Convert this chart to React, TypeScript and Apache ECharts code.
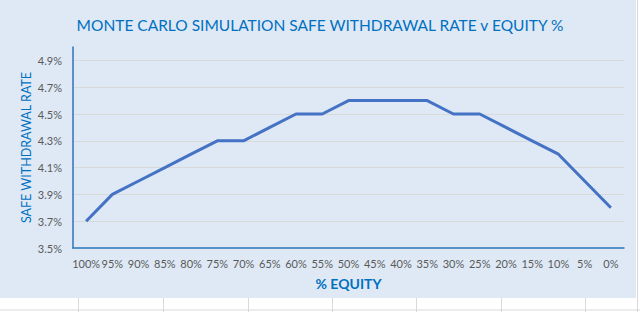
import React, { useEffect, useRef } from "react";
import * as echarts from "echarts";

const categories = ["100%", "95%", "90%", "85%", "80%", "75%", "70%", "65%", "60%", "55%", "50%", "45%", "40%", "35%", "30%", "25%", "20%", "15%", "10%", "5%", "0%"];
const swr = [3.7, 3.9, 4.0, 4.1, 4.2, 4.3, 4.3, 4.4, 4.5, 4.5, 4.6, 4.6, 4.6, 4.6, 4.5, 4.5, 4.4, 4.3, 4.2, 4.0, 3.8];
const cellLinesX = [78, 163, 248, 332, 416, 501, 585];

export default function App() {
  const ref = useRef<HTMLDivElement>(null);
  useEffect(() => {
    document.body.style.margin = "0";
    const chart = echarts.init(ref.current!, null, { renderer: "svg" });
    const font = "Lato, 'Open Sans', sans-serif";
    const graphics: any[] = [
      { type: "rect", z: -10, shape: { x: 0, y: 0, width: 636, height: 298 }, style: { fill: "#dee9f5" }, silent: true },
      { type: "line", shape: { x1: 0, y1: 310, x2: 640, y2: 310 }, style: { stroke: "#d9d9d9", lineWidth: 1 } },
      { type: "line", shape: { x1: 637.5, y1: 0, x2: 637.5, y2: 312 }, style: { stroke: "#d9d9d9", lineWidth: 1 } },
    ];
    cellLinesX.forEach((x) =>
      graphics.push({ type: "line", shape: { x1: x + 0.5, y1: 298, x2: x + 0.5, y2: 312 }, style: { stroke: "#d9d9d9", lineWidth: 1 } })
    );
    chart.setOption({
      animation: false,
      textStyle: { fontFamily: font },
      title: {
        text: "MONTE CARLO SIMULATION SAFE WITHDRAWAL RATE v EQUITY %",
        left: "center",
        top: 12,
        textStyle: { color: "#0070c0", fontSize: 15.5, fontWeight: "normal", fontFamily: font },
      },
      graphic: graphics,
      grid: { left: 73, right: 16, top: 47, bottom: 64 },
      xAxis: {
        type: "category",
        data: categories,
        boundaryGap: true,
        name: "% EQUITY",
        nameLocation: "middle",
        nameGap: 28,
        nameMoveOverlap: false,
        nameTextStyle: { color: "#0070c0", fontSize: 14, fontWeight: "bold", fontFamily: font },
        axisLine: { lineStyle: { color: "#2e75b6", width: 1.5 } },
        axisTick: { show: false },
        axisLabel: { color: "#595959", fontSize: 11, margin: 10, interval: 0 },
      },
      yAxis: {
        type: "value",
        min: 3.5,
        max: 5.0,
        interval: 0.2,
        name: "SAFE WITHDRAWAL RATE",
        nameLocation: "middle",
        nameRotate: 90,
        nameGap: 40,
        nameMoveOverlap: false,
        nameTextStyle: { color: "#0070c0", fontSize: 12.5, fontFamily: font },
        axisLine: { show: true, lineStyle: { color: "#2e75b6", width: 1.5 } },
        axisTick: { show: false },
        axisLabel: {
          color: "#595959",
          fontSize: 11,
          margin: 11,
          showMaxLabel: false,
          formatter: (v: number) => (v > 4.95 ? "" : v.toFixed(1) + "%"),
        },
        splitLine: { show: true, showMinLine: false, showMaxLine: false, lineStyle: { color: "#d9d9d9", width: 1 } },
      },
      series: [
        {
          type: "line",
          data: swr,
          symbol: "none",
          lineStyle: { color: "#4472c4", width: 3 },
        },
      ],
    });
    return () => chart.dispose();
  }, []);
  return <div ref={ref} style={{ width: 640, height: 312, background: "#ffffff" }} />;
}
